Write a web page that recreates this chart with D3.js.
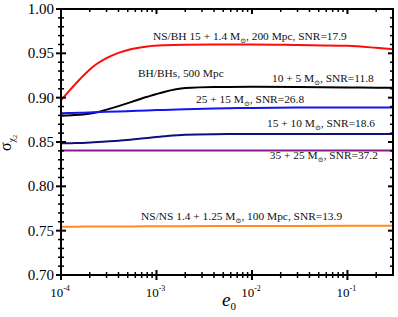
<!DOCTYPE html>
<html>
<head>
<meta charset="utf-8">
<script src="https://cdn.jsdelivr.net/npm/d3@7"></script>
<style>
  body { margin: 0; background: #fff; }
  text { font-family: "Liberation Serif", "DejaVu Serif", serif; }
</style>
</head>
<body>
<div id="chart"></div>
<script>
const width = 398;
const height = 317;
const margin = {top: 9, right: 5, bottom: 42, left: 61};

// e0 sample points (shared by all curves)
const e0 = [1e-4, 1.3e-4, 1.7e-4, 2.2e-4, 3e-4, 4e-4, 5.5e-4, 8e-4, 1.2e-3, 2e-3, 4e-3, 1e-2, 3e-2, 0.1, 0.2, 0.3];

// sigma_chi2 for each system
const nsbh   = [0.8970, 0.9110, 0.9245, 0.9355, 0.9445, 0.9505, 0.9548, 0.9578, 0.9592, 0.9598, 0.9600, 0.9600, 0.9594, 0.9585, 0.9562, 0.9545];
const bhbh   = [0.8797, 0.8803, 0.8811, 0.8828, 0.8865, 0.8905, 0.8953, 0.9010, 0.9065, 0.9108, 0.9120, 0.9122, 0.9120, 0.9116, 0.9113, 0.9112];
const bh2515 = [0.8824, 0.8827, 0.8831, 0.8835, 0.8840, 0.8845, 0.8850, 0.8856, 0.8862, 0.8869, 0.8877, 0.8884, 0.8888, 0.8889, 0.8889, 0.8889];
const bh1510 = [0.8485, 0.8487, 0.8490, 0.8497, 0.8506, 0.8515, 0.8528, 0.8545, 0.8564, 0.8582, 0.8588, 0.8590, 0.8590, 0.8590, 0.8590, 0.8590];
const bh3525 = [0.8405, 0.8405, 0.8405, 0.8405, 0.8405, 0.8405, 0.8405, 0.8405, 0.8405, 0.8405, 0.8405, 0.8405, 0.8405, 0.8405, 0.8405, 0.8405];
const nsns   = [0.7545, 0.7545, 0.7546, 0.7546, 0.7547, 0.7547, 0.7548, 0.7549, 0.7550, 0.7551, 0.7552, 0.7553, 0.7554, 0.7555, 0.7555, 0.7556];

const series = [
  {name: "NS/BH", values: nsbh, color: "#ff0a0a"},
  {name: "BH/BH 10+5", values: bhbh, color: "#000000"},
  {name: "BH/BH 25+15", values: bh2515, color: "#1414f0"},
  {name: "BH/BH 15+10", values: bh1510, color: "#10107a"},
  {name: "BH/BH 35+25", values: bh3525, color: "#8a1a8a"},
  {name: "NS/NS", values: nsns, color: "#ff8c1a"}
];

// curve labels: anchor (e0, sigma), text before/after the solar-mass subscript
const labels = [
  {e: 9.2e-4, s: 0.9655, pre: "NS/BH 15 + 1.4 M", sub: "\u2299", post: ", 200 Mpc, SNR=17.9"},
  {e: 6.4e-4, s: 0.9235, pre: "BH/BHs, 500 Mpc", sub: "", post: ""},
  {e: 1.62e-2, s: 0.9175, pre: "10 + 5 M", sub: "\u2299", post: ", SNR=11.8"},
  {e: 2.6e-3, s: 0.8945, pre: "25 + 15 M", sub: "\u2299", post: ", SNR=26.8"},
  {e: 1.44e-2, s: 0.8665, pre: "15 + 10 M", sub: "\u2299", post: ", SNR=18.6"},
  {e: 1.54e-2, s: 0.8305, pre: "35 + 25 M", sub: "\u2299", post: ", SNR=37.2"},
  {e: 6.9e-4, s: 0.7615, pre: "NS/NS 1.4 + 1.25 M", sub: "\u2299", post: ", 100 Mpc, SNR=13.9"}
];

const yTicks = [0.70, 0.75, 0.80, 0.85, 0.90, 0.95, 1.00];
const xTicks = [1e-4, 1e-3, 1e-2, 1e-1];
const xExp = ["-4", "-3", "-2", "-1"];

const svg = d3.select("#chart").append("svg")
  .attr("width", width)
  .attr("height", height);

const x = d3.scaleLog().domain([1e-4, 0.3]).range([margin.left, width - margin.right]);
const y = d3.scaleLinear().domain([0.70, 1.00]).range([height - margin.bottom, margin.top]);

const x0 = margin.left, x1 = width - margin.right;
const y0 = height - margin.bottom, y1 = margin.top;

// minor ticks
const xMinor = [];
for (let d = -4; d <= -1; d++) {
  for (let k = 2; k <= 9; k++) {
    const v = k * Math.pow(10, d);
    if (v <= 0.3) xMinor.push(v);
  }
}
const yMinor = d3.range(70, 101).map(i => i / 100).filter(v => Math.round(v * 100) % 5 !== 0);

// curves
const line = d3.line()
  .x((d, i) => x(e0[i]))
  .y(d => y(d))
  .curve(d3.curveMonotoneX);

svg.append("g").selectAll("path")
  .data(series)
  .enter()
  .append("path")
  .attr("d", d => line(d.values))
  .attr("fill", "none")
  .attr("stroke", d => d.color)
  .attr("stroke-width", 2);

// ticks
const tk = svg.append("g").attr("stroke", "#000");
// bottom: crossing
tk.selectAll(".xb").data(xTicks).enter().append("line")
  .attr("x1", d => x(d)).attr("x2", d => x(d))
  .attr("y1", y0 - 5).attr("y2", y0 + 5).attr("stroke-width", 2);
tk.selectAll(".xbm").data(xMinor).enter().append("line")
  .attr("x1", d => x(d)).attr("x2", d => x(d))
  .attr("y1", y0 - 3).attr("y2", y0 + 3).attr("stroke-width", 1.5);
// top: inward
tk.selectAll(".xt").data(xTicks).enter().append("line")
  .attr("x1", d => x(d)).attr("x2", d => x(d))
  .attr("y1", y1).attr("y2", y1 + 5).attr("stroke-width", 2);
tk.selectAll(".xtm").data(xMinor).enter().append("line")
  .attr("x1", d => x(d)).attr("x2", d => x(d))
  .attr("y1", y1).attr("y2", y1 + 3).attr("stroke-width", 1.5);
// left: crossing
tk.selectAll(".yl").data(yTicks).enter().append("line")
  .attr("y1", d => y(d)).attr("y2", d => y(d))
  .attr("x1", x0 - 5).attr("x2", x0 + 5).attr("stroke-width", 2);
tk.selectAll(".ylm").data(yMinor).enter().append("line")
  .attr("y1", d => y(d)).attr("y2", d => y(d))
  .attr("x1", x0 - 3).attr("x2", x0 + 3).attr("stroke-width", 1.5);
// right: inward
tk.selectAll(".yr").data(yTicks).enter().append("line")
  .attr("y1", d => y(d)).attr("y2", d => y(d))
  .attr("x1", x1 - 5).attr("x2", x1).attr("stroke-width", 2);
tk.selectAll(".yrm").data(yMinor).enter().append("line")
  .attr("y1", d => y(d)).attr("y2", d => y(d))
  .attr("x1", x1 - 3).attr("x2", x1).attr("stroke-width", 1.5);

// frame
svg.append("rect")
  .attr("x", x0).attr("y", y1)
  .attr("width", x1 - x0).attr("height", y0 - y1)
  .attr("fill", "none").attr("stroke", "#000").attr("stroke-width", 2);

// y tick labels
svg.append("g").selectAll("text")
  .data(yTicks)
  .enter()
  .append("text")
  .attr("x", x0 - 7)
  .attr("y", d => y(d) + 5)
  .attr("text-anchor", "end")
  .attr("font-size", 15)
  .text(d => d.toFixed(2));

// x tick labels
const xl = svg.append("g").selectAll("text")
  .data(xTicks)
  .enter()
  .append("text")
  .attr("x", d => x(d) - 1)
  .attr("y", y0 + 22)
  .attr("text-anchor", "middle")
  .attr("font-size", 13);
xl.append("tspan").text("10");
xl.append("tspan").attr("font-size", 8).attr("dy", -6).text((d, i) => xExp[i]);

// axis titles
const xt = svg.append("text")
  .attr("x", 222)
  .attr("y", 306)
  .attr("font-size", 19)
  .attr("font-style", "italic");
xt.append("tspan").text("e");
xt.append("tspan").attr("font-size", 11).attr("font-style", "normal").attr("dy", 4).text("0");

const yt = svg.append("text")
  .attr("transform", "translate(11,151) rotate(-90)")
  .attr("font-size", 16);
yt.append("tspan").text("\u03c3");
yt.append("tspan").attr("font-size", 10).attr("dy", 4).text("\u03c7");
yt.append("tspan").attr("font-size", 6).attr("dy", 2).text("2");

// curve annotations
const an = svg.append("g").selectAll("text")
  .data(labels)
  .enter()
  .append("text")
  .attr("x", d => x(d.e))
  .attr("y", d => y(d.s))
  .attr("font-size", 11.4)
  .attr("fill", "#111");
an.append("tspan").text(d => d.pre);
an.append("tspan").attr("font-size", 7).attr("dy", 3).text(d => d.sub);
an.append("tspan").attr("dy", d => d.sub ? -3 : 0).text(d => d.post);
</script>
</body>
</html>
